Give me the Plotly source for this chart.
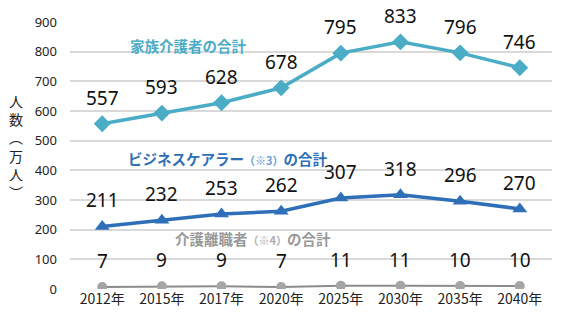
import plotly.graph_objects as go

years = ["2012年", "2015年", "2017年", "2020年", "2025年", "2030年", "2035年", "2040年"]
family_carers = [557, 593, 628, 678, 795, 833, 796, 746]
business_carers = [211, 232, 253, 262, 307, 318, 296, 270]
care_leavers = [7, 9, 9, 7, 11, 11, 10, 10]
y_ticks = [0, 100, 200, 300, 400, 500, 600, 700, 800, 900]

FONT = "Noto Sans CJK JP"
C_FAM = "#4bacc6"
C_BUS = "#2e6fb7"
C_GRAY_LINE = "#8c8c8c"
C_GRAY_MK = "#a5a5a5"

fig = go.Figure()
fig.add_trace(go.Scatter(x=years, y=family_carers, mode="lines+markers",
                         line=dict(color=C_FAM, width=3.5),
                         marker=dict(symbol="diamond", size=13, color=C_FAM)))
fig.add_trace(go.Scatter(x=years, y=business_carers, mode="lines+markers",
                         line=dict(color=C_BUS, width=3.5),
                         marker=dict(symbol="triangle-up", size=13, color=C_BUS)))
fig.add_trace(go.Scatter(x=years, y=care_leavers, mode="lines+markers",
                         line=dict(color=C_GRAY_LINE, width=2),
                         marker=dict(symbol="circle", size=10, color=C_GRAY_MK)))

ann = []
for series in (family_carers, business_carers, care_leavers):
    for x, v in zip(years, series):
        ann.append(dict(x=x, y=v, xref="x", yref="y", text=str(v), showarrow=False,
                        yshift=26, font=dict(family="Noto Sans", size=19, color="#111111")))

# plot area: x 70..552, y 22..289
def px2paper(xp):
    return (xp - 70) / (552 - 70)

def py2paper(yp):
    return (289 - yp) / (289 - 22)

def lab(text, px, py, color):
    return dict(x=px2paper(px), y=py2paper(py), xref="paper", yref="paper",
                xanchor="left", yanchor="middle", text=text, showarrow=False,
                font=dict(family=FONT, size=14.5, color=color))

ann.append(lab("<b>家族介護者の合計</b>", 128, 45, C_FAM))
ann.append(lab("<b>ビジネスケアラー<span style='font-size:11px;color:#6a9bd0'>（※3）</span>の合計</b>",
               126, 158, C_BUS))
ann.append(lab("<b>介護離職者<span style='font-size:11px;color:#b0b0b0'>（※4）</span>の合計</b>",
               173, 238, "#999999"))
ann.append(dict(x=px2paper(16), y=py2paper(146), xref="paper", yref="paper",
                xanchor="center", yanchor="middle",
                text="人<br>数<br>︵<br>万<br>人<br>︶",
                showarrow=False, font=dict(family=FONT, size=14, color="#222222")))

fig.update_layout(
    width=564, height=323,
    margin=dict(l=70, r=12, t=22, b=34),
    paper_bgcolor="white", plot_bgcolor="white",
    showlegend=False,
    annotations=ann,
    xaxis=dict(type="category", showgrid=False, zeroline=False, showline=False,
               tickfont=dict(family=FONT, size=14, color="#222222"), ticks=""),
    yaxis=dict(range=[0, 900], tickvals=y_ticks, showgrid=True, gridcolor="#d9d9d9",
               gridwidth=1.5, zeroline=False, showline=False, ticks="",
               tickfont=dict(family="Noto Sans", size=13, color="#222222"),
               ticklabelstandoff=12),
)
fig.write_html("out.html")
